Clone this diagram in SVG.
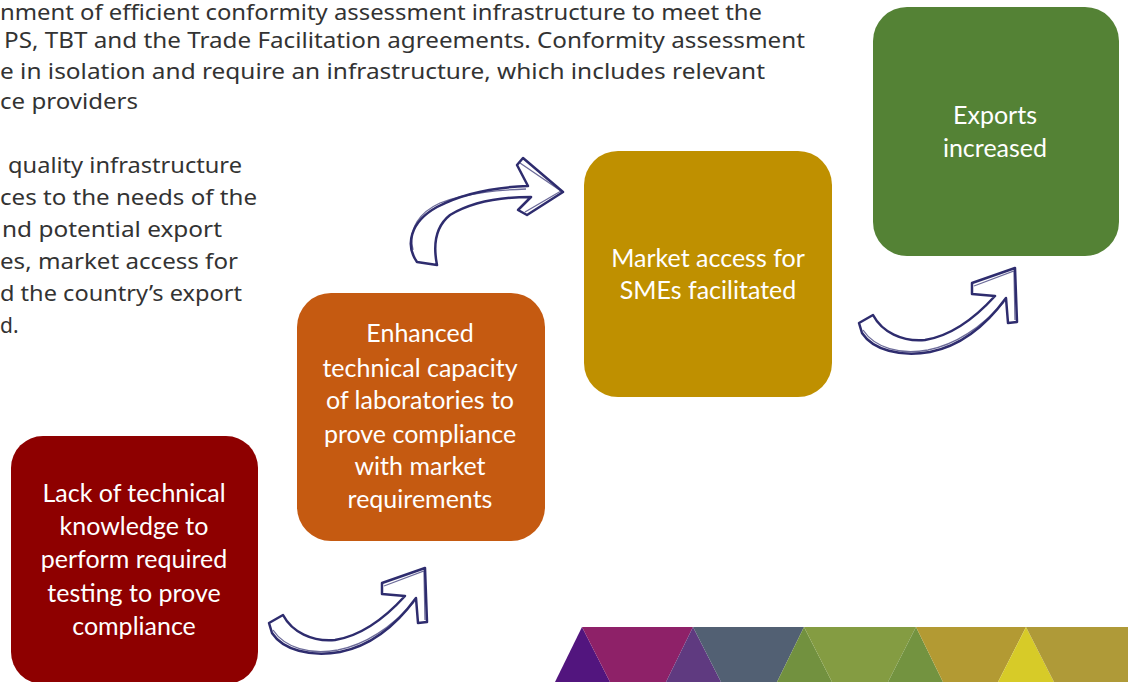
<svg xmlns="http://www.w3.org/2000/svg" width="1128" height="682" viewBox="0 0 1128 682">
<defs>
<style>
.para{font-family:"Noto Sans","Open Sans",sans-serif;font-size:21px;fill:#333333}
.lbl{font-family:Lato,"Liberation Sans",sans-serif;font-size:25px;fill:#ffffff;text-anchor:middle}
.arr{fill:#ffffff;stroke:#2e2c6e;stroke-width:2.5;stroke-linejoin:round}
.arr2{fill:none;stroke:#2e2c6e;stroke-width:1.3;opacity:0.7}
</style>
<g id="arrowA">
<path class="arr" d="M269,623 L283,615 C292,632 312,642 335,640 C360,636 385,618 405,596 L382,594 L382,583 L425,568 L427,622 L418,623 L416,598 C400,620 375,645 340,652 C310,657 283,650 272,633 Z"/>
<path class="arr2" d="M273,630 C285,648 310,655 338,650 C372,643 398,620 414,602"/>
<path class="arr2" d="M384,586 L424,571 L425,620"/>
</g>
</defs>
<rect width="1128" height="682" fill="#ffffff"/>
<g id="text-top">
<text class="para" x="0" y="20" textLength="762" lengthAdjust="spacingAndGlyphs">nment of efficient conformity assessment infrastructure to meet the</text>
<text class="para" x="4" y="48" textLength="801" lengthAdjust="spacingAndGlyphs">PS, TBT and the Trade Facilitation agreements. Conformity assessment</text>
<text class="para" x="0" y="79" textLength="765" lengthAdjust="spacingAndGlyphs">e in isolation and require an infrastructure, which includes relevant</text>
<text class="para" x="0" y="109" textLength="138" lengthAdjust="spacingAndGlyphs">ce providers</text>
<text class="para" x="8" y="173" textLength="234" lengthAdjust="spacingAndGlyphs">quality infrastructure</text>
<text class="para" x="0" y="205" textLength="257" lengthAdjust="spacingAndGlyphs">ces to the needs of the</text>
<text class="para" x="2" y="237" textLength="220" lengthAdjust="spacingAndGlyphs">nd potential export</text>
<text class="para" x="0" y="269" textLength="238" lengthAdjust="spacingAndGlyphs">es, market access for</text>
<text class="para" x="0" y="301" textLength="242" lengthAdjust="spacingAndGlyphs">d the country’s export</text>
<text class="para" x="0" y="333">d.</text>
</g>
<g id="band">
<polygon points="555,682 582,627 610,682" fill="#52157e"/>
<polygon points="582,627 693,627 666,682 610,682" fill="#8e2168"/>
<polygon points="666,682 693,627 721,682" fill="#5f3a80"/>
<polygon points="693,627 804,627 777,682 721,682" fill="#526073"/>
<polygon points="777,682 804,627 832,682" fill="#72913f"/>
<polygon points="804,627 916,627 888,682 832,682" fill="#849c42"/>
<polygon points="888,682 916,627 943,682" fill="#739340"/>
<polygon points="916,627 1026,627 998,682 943,682" fill="#b39a33"/>
<polygon points="998,682 1026,627 1054,682" fill="#d7cb28"/>
<polygon points="1026,627 1140,627 1140,682 1054,682" fill="#af9a38"/>
</g>
<g id="connectors">
<use href="#arrowA"/>
<g id="arrowB">
<path class="arr" d="M417,262 C405,245 410,222 437,207 C465,192 500,187 528,186 L517,165 L523,158 L563,192 L527,215 L518,210 L531,197 C500,197 470,203 450,215 C435,227 433,245 437,265 Z"/>
<path class="arr2" d="M413,250 C408,228 420,212 440,203 C470,192 500,190 526,189"/>
<path class="arr2" d="M520,163 L561,191 L525,212"/>
</g>
<use href="#arrowA" transform="translate(590,-300)"/>
</g>
<g id="node1">
<rect x="11" y="436" width="247" height="248" rx="32" fill="#8e0000"/>
<text class="lbl" x="134" y="502">Lack of technical</text>
<text class="lbl" x="134" y="535">knowledge to</text>
<text class="lbl" x="134" y="568">perform  required</text>
<text class="lbl" x="134" y="602">testing to prove</text>
<text class="lbl" x="134" y="635">compliance</text>
</g>
<g id="node2">
<rect x="297" y="293" width="248" height="248" rx="34" fill="#c55a11"/>
<text class="lbl" x="420" y="342">Enhanced</text>
<text class="lbl" x="420" y="377">technical capacity</text>
<text class="lbl" x="420" y="409">of laboratories to</text>
<text class="lbl" x="420" y="443">prove  compliance</text>
<text class="lbl" x="420" y="475">with market</text>
<text class="lbl" x="420" y="508">requirements</text>
</g>
<g id="node3">
<rect x="584" y="151" width="248" height="246" rx="34" fill="#bf9000"/>
<text class="lbl" x="708" y="267">Market access for</text>
<text class="lbl" x="708" y="299">SMEs facilitated</text>
</g>
<g id="node4">
<rect x="873" y="7" width="246" height="249" rx="34" fill="#548235"/>
<text class="lbl" x="995" y="124">Exports</text>
<text class="lbl" x="995" y="157">increased</text>
</g>
</svg>
